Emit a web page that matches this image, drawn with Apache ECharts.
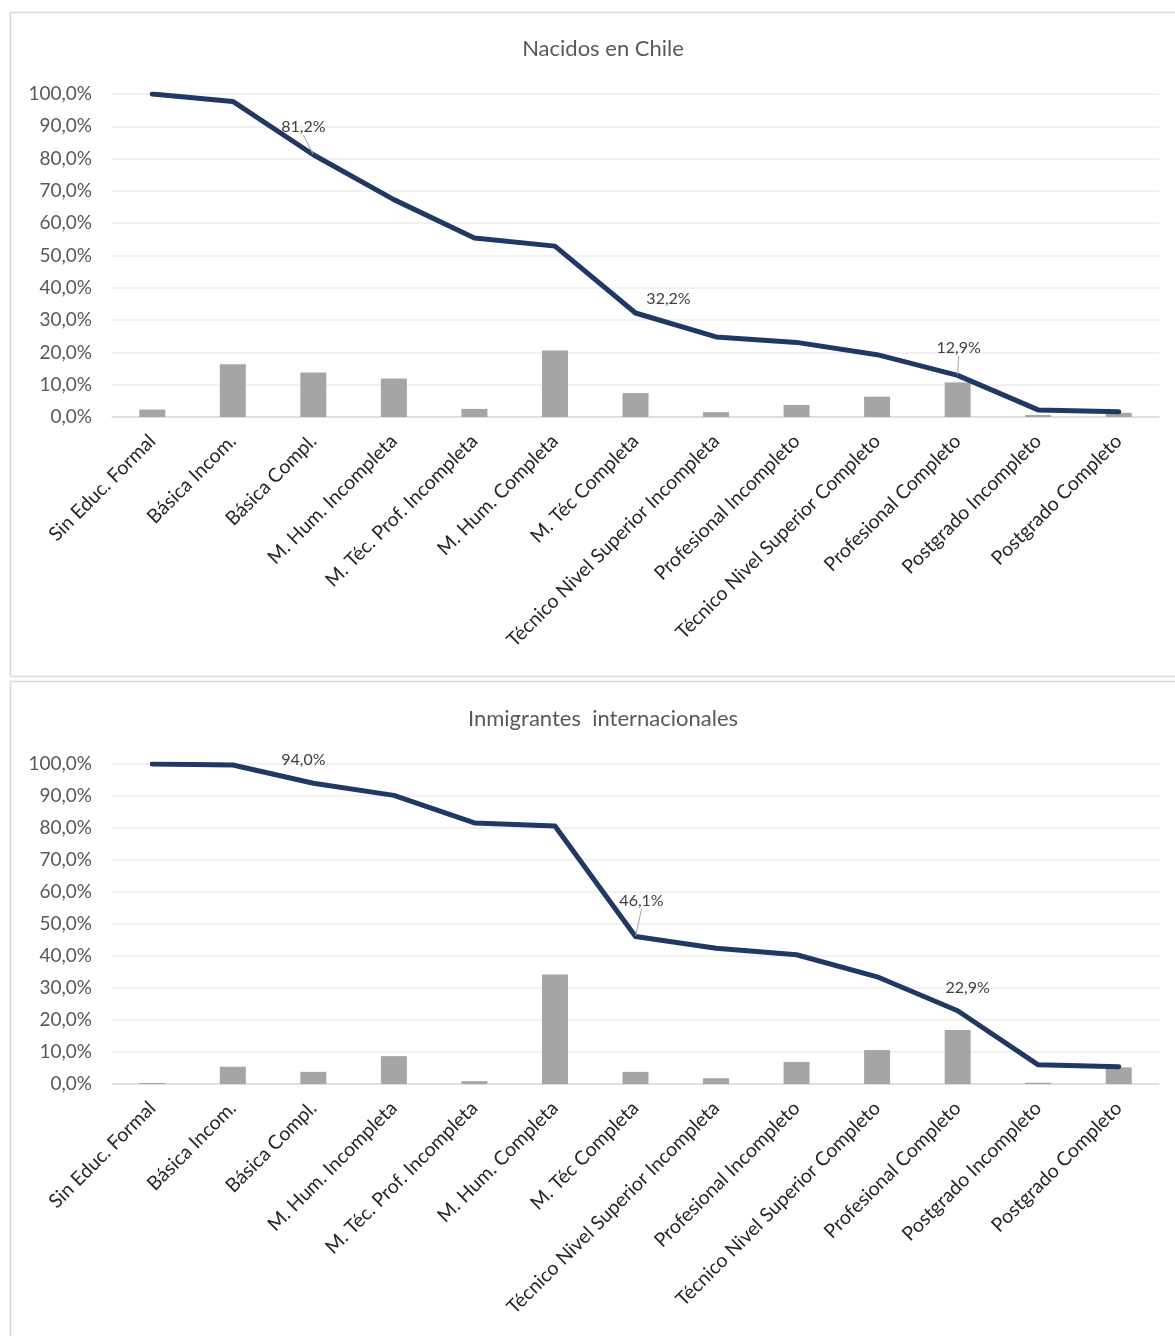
<!DOCTYPE html>
<html>
<head>
<meta charset="utf-8">
<script src="https://cdn.jsdelivr.net/npm/echarts@6/dist/echarts.min.js"></script>
<style>
html,body{margin:0;padding:0;background:#fff;}
#c{width:1175px;height:1336px;}
</style>
</head>
<body>
<div id="c"></div>
<script>
var categories = ['Sin Educ. Formal','Básica Incom.','Básica Compl.','M. Hum. Incompleta','M. Téc. Prof. Incompleta','M. Hum. Completa','M. Téc Completa','Técnico Nivel Superior Incompleta','Profesional Incompleto','Técnico Nivel Superior Completo','Profesional Completo','Postgrado Incompleto','Postgrado Completo'];
var yTicks = [0,10,20,30,40,50,60,70,80,90,100];

var chileTitle = 'Nacidos en Chile';
var chileBars = [2.3,16.3,13.8,11.9,2.5,20.6,7.4,1.5,3.7,6.3,10.7,0.6,1.3];
var chileCum  = [100,97.7,81.2,67.3,55.4,52.9,32.2,24.8,23.1,19.3,12.9,2.2,1.6];
var chileLabeled = [2,6,10];

var inmTitle = 'Inmigrantes  internacionales';
var inmBars = [0.3,5.4,3.8,8.7,0.9,34.2,3.8,1.8,6.9,10.6,16.9,0.4,5.2];
var inmCum  = [100,99.7,94.0,90.2,81.6,80.6,46.1,42.4,40.4,33.5,22.9,6.0,5.4];
var inmLabeled = [2,6,10];

var fam = 'Lato, "Open Sans", sans-serif';
var chart = echarts.init(document.getElementById('c'));

function fmt(v){ return v.toFixed(1).replace('.', ',') + '%'; }

function lineData(vals, labeled, withLine){
  return vals.map(function(v,i){
    var idx = labeled.indexOf(i);
    if (idx < 0) return v;
    return {
      value: v,
      label: {show: true},
      labelLine: {show: withLine[idx]}
    };
  });
}

var offsetsTop = {2:[-10,-14], 6:[33,-1], 10:[1,-14]};
var offsetsBot = {2:[-10,-10], 6:[6,-22], 10:[10,-9]};

function xAxis(gi){
  return {
    type: 'category', gridIndex: gi, data: categories, boundaryGap: true,
    axisLine: {lineStyle: {color: '#D9D9D9', width: 1.5}},
    axisTick: {show: false},
    axisLabel: {rotate: 45, interval: 0, margin: 21, color: '#262626', fontSize: 19.5, fontFamily: fam}
  };
}
function yAxis(gi){
  return {
    type: 'value', gridIndex: gi, min: 0, max: 100, interval: 10,
    axisLine: {show: false}, axisTick: {show: false},
    splitLine: {lineStyle: {color: '#EDEDED', width: 1.5}},
    axisLabel: {margin: 20, color: '#595959', fontSize: 19, fontFamily: fam,
      formatter: function(v){ return fmt(v); }}
  };
}
function lineSeries(gi, vals, labeled, withLine, offs){
  return {
    type: 'line', xAxisIndex: gi, yAxisIndex: gi, z: 5,
    data: lineData(vals, labeled, withLine),
    symbol: 'circle', symbolSize: 1, showSymbol: true,
    itemStyle: {color: '#203864'},
    lineStyle: {color: '#203864', width: 5, cap: 'round', join: 'round'},
    label: {show: false, position: 'top', distance: 5, color: '#404040', fontSize: 16, fontFamily: fam,
      formatter: function(p){ return fmt(p.value); }},
    labelLine: {show: false, lineStyle: {color: '#A6A6A6', width: 1}},
    labelLayout: function(p){
      var o = offs[p.dataIndex];
      if (!o) return {};
      return {dx: o[0], dy: o[1]};
    },
    emphasis: {disabled: true},
    animation: false
  };
}
function barSeries(gi, vals){
  return {
    type: 'bar', xAxisIndex: gi, yAxisIndex: gi, z: 2,
    data: vals, barWidth: 26,
    itemStyle: {color: '#A5A5A5'},
    emphasis: {disabled: true},
    animation: false
  };
}

chart.setOption({
  animation: false,
  graphic: [
    {type: 'rect', shape: {x: 10.5, y: 12.5, width: 1180, height: 664}, style: {fill: 'none', stroke: '#D9D9D9', lineWidth: 1.5}, silent: true},
    {type: 'rect', shape: {x: 10.5, y: 681.5, width: 1180, height: 670}, style: {fill: 'none', stroke: '#D9D9D9', lineWidth: 1.5}, silent: true}
  ],
  title: [
    {text: chileTitle, left: 598, top: 33, textAlign: 'center', textStyle: {color: '#595959', fontSize: 22, fontWeight: 'normal', fontFamily: fam}},
    {text: inmTitle, left: 598, top: 703, textAlign: 'center', textStyle: {color: '#595959', fontSize: 22, fontWeight: 'normal', fontFamily: fam}}
  ],
  grid: [
    {left: 112, right: 16, top: 94, height: 323},
    {left: 112, right: 16, top: 764, height: 320}
  ],
  xAxis: [xAxis(0), xAxis(1)],
  yAxis: [yAxis(0), yAxis(1)],
  series: [
    barSeries(0, chileBars),
    lineSeries(0, chileCum, chileLabeled, [true,false,true], offsetsTop),
    barSeries(1, inmBars),
    lineSeries(1, inmCum, inmLabeled, [false,true,false], offsetsBot)
  ]
});
</script>
</body>
</html>
